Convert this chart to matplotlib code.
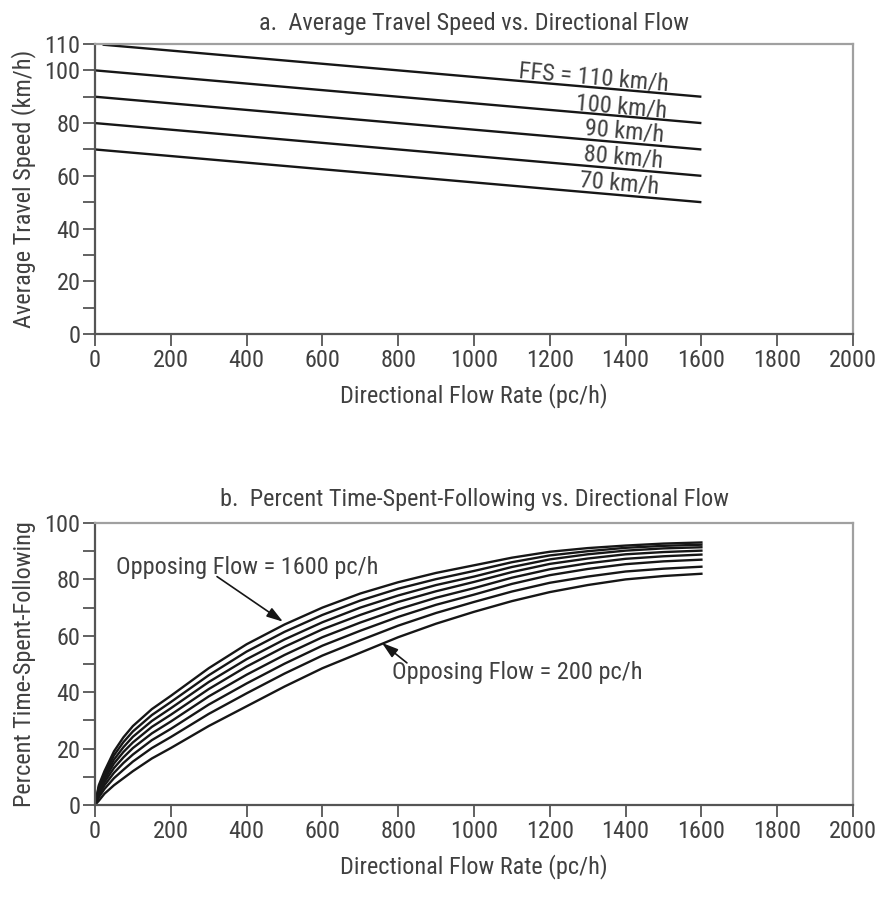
import matplotlib
matplotlib.use("Agg")
import matplotlib.pyplot as plt
from matplotlib import font_manager
from matplotlib.ticker import FixedLocator

# ---------------- data ----------------
# (a) Average travel speed vs directional flow
ffs_values = [110, 100, 90, 80, 70]
ats_x = [[20, 1600], [0, 1600], [0, 1600], [0, 1600], [0, 1600]]
ats_y = [[109.75, 90], [100, 80], [90, 70], [80, 60], [70, 50]]
ffs_labels = ["FFS = 110 km/h", "100 km/h", "90 km/h", "80 km/h", "70 km/h"]

# (b) Percent time-spent-following vs directional flow (opposing flow 1600 ... 200)
ptsf_x = [0, 10, 25, 50, 75, 100, 150, 200, 300, 400, 500, 600, 700, 800, 900, 1000,
          1100, 1200, 1300, 1400, 1500, 1600]
ptsf_1600 = [0, 7.0, 12.0, 19.0, 24.0, 28.0, 34.0, 38.7, 48.5, 57.0, 64.0, 70.0, 75.0, 79.0, 82.3, 85.0,
             87.7, 89.8, 91.1, 92.0, 92.7, 93.1]
ptsf_1400 = [0, 6.3, 11.0, 17.6, 22.3, 26.1, 31.9, 36.5, 46.0, 54.4, 61.4, 67.4, 72.5, 76.7, 80.1, 83.0,
             86.1, 88.5, 90.0, 91.2, 91.9, 92.3]
ptsf_1200 = [0, 5.7, 10.1, 16.1, 20.5, 24.2, 29.8, 34.3, 43.6, 51.7, 58.7, 64.8, 70.0, 74.3, 78.0, 81.0,
             84.4, 87.1, 88.9, 90.2, 91.0, 91.4]
ptsf_1000 = [0, 5.0, 9.1, 14.7, 18.8, 22.2, 27.7, 32.0, 41.1, 49.1, 56.1, 62.3, 67.4, 72.0, 75.8, 79.1,
             82.6, 85.5, 87.4, 88.9, 89.7, 90.2]
ptsf_800 = [0, 4.3, 8.1, 13.1, 16.9, 20.2, 25.4, 29.6, 38.5, 46.2, 53.2, 59.5, 64.7, 69.4, 73.5, 76.9,
            80.6, 83.6, 85.7, 87.3, 88.2, 88.8]
ptsf_600 = [0, 3.5, 7.0, 11.4, 14.9, 17.9, 23.0, 27.0, 35.6, 43.1, 50.1, 56.5, 61.8, 66.7, 71.0, 74.6,
            78.4, 81.5, 83.7, 85.4, 86.4, 87.0]
ptsf_400 = [0, 2.7, 5.7, 9.5, 12.5, 15.4, 20.2, 24.1, 32.3, 39.6, 46.6, 53.0, 58.4, 63.6, 68.1, 72.0,
            75.7, 78.8, 81.0, 82.8, 83.8, 84.5]
ptsf_200 = [0, 1.5, 4.0, 7.0, 9.5, 12.0, 16.5, 20.2, 28.0, 35.0, 42.0, 48.5, 54.0, 59.5, 64.3, 68.5,
            72.3, 75.5, 78.0, 80.0, 81.2, 82.0]
ptsf_series = [ptsf_1600, ptsf_1400, ptsf_1200, ptsf_1000, ptsf_800, ptsf_600, ptsf_400, ptsf_200]

x_ticks = [0, 200, 400, 600, 800, 1000, 1200, 1400, 1600, 1800, 2000]
a_yticks = [0, 20, 40, 60, 80, 100, 110]
b_yticks = [0, 20, 40, 60, 80, 100]
minor_yticks = [10, 30, 50, 70, 90]

# ---------------- style ----------------
avail = {f.name for f in font_manager.fontManager.ttflist}
fam = None
for cand in ["Liberation Sans Narrow", "Roboto Condensed", "DejaVu Sans Condensed", "Liberation Sans"]:
    if cand in avail:
        fam = cand
        break
plt.rcParams["font.family"] = [fam, "DejaVu Sans"]

TXT = "#404040"
SPINE = "#555555"
LIGHT = "#a0a0a0"
LINE = "#161616"
FS = 17.5

fig = plt.figure(figsize=(8.83, 9.0), dpi=100)
ax1 = fig.add_axes([95 / 883, (900 - 334) / 900, 758 / 883, 290 / 900])
ax2 = fig.add_axes([95 / 883, (900 - 805) / 900, 758 / 883, 282 / 900])


def style(ax, yticks, ymax):
    ax.set_xlim(0, 2000)
    ax.set_ylim(0, ymax)
    ax.xaxis.set_major_locator(FixedLocator(x_ticks))
    ax.yaxis.set_major_locator(FixedLocator(yticks))
    ax.yaxis.set_minor_locator(FixedLocator(minor_yticks))
    ax.tick_params(axis="both", which="both", direction="out", length=8.5, width=1.3,
                   color=SPINE, labelsize=FS, labelcolor=TXT, pad=2)
    ax.tick_params(axis="x", which="minor", length=0)
    for s in ["left", "bottom"]:
        ax.spines[s].set_color(SPINE)
        ax.spines[s].set_linewidth(1.6)
    for s in ["top", "right"]:
        ax.spines[s].set_color(LIGHT)
        ax.spines[s].set_linewidth(1.6)
    ax.set_xlabel("Directional Flow Rate (pc/h)", fontsize=FS, color=TXT, labelpad=8)


# ---- (a) ----
style(ax1, a_yticks, 110)
for xs, ys in zip(ats_x, ats_y):
    ax1.plot(xs, ys, color=LINE, lw=1.7, solid_capstyle="butt")
label_pos = [(1317, 97.3), (1390, 86.0), (1398, 76.9), (1393, 67.0), (1383, 57.2)]
for txt, (lx, ly) in zip(ffs_labels, label_pos):
    ax1.text(lx, ly, txt, fontsize=FS, color=TXT, ha="center", va="center", rotation=-5)
ax1.set_ylabel("Average Travel Speed (km/h)", fontsize=FS, color=TXT, labelpad=6)
ax1.set_title("a.  Average Travel Speed vs. Directional Flow", fontsize=FS, color=TXT, pad=10)

# ---- (b) ----
style(ax2, b_yticks, 100)
for ys in ptsf_series:
    ax2.plot(ptsf_x, ys, color=LINE, lw=1.7, solid_joinstyle="round")
ax2.text(401, 84.1, "Opposing Flow = 1600 pc/h", fontsize=FS, color=TXT, ha="center", va="center")
ax2.text(1113, 46.9, "Opposing Flow = 200 pc/h", fontsize=FS, color=TXT, ha="center", va="center")
arrow_kw = dict(arrowstyle="-|>,head_length=0.7,head_width=0.22", color=LINE, lw=1.2,
                mutation_scale=14, shrinkA=0, shrinkB=0)
ax2.annotate("", xy=(496, 65), xytext=(322, 81), arrowprops=arrow_kw)
ax2.annotate("", xy=(757, 57.5), xytext=(823, 50.4), arrowprops=arrow_kw)
ax2.set_ylabel("Percent Time-Spent-Following", fontsize=FS, color=TXT, labelpad=6)
ax2.set_title("b.  Percent Time-Spent-Following vs. Directional Flow", fontsize=FS, color=TXT, pad=12)

fig.savefig("out.png", dpi=100, facecolor="white")
